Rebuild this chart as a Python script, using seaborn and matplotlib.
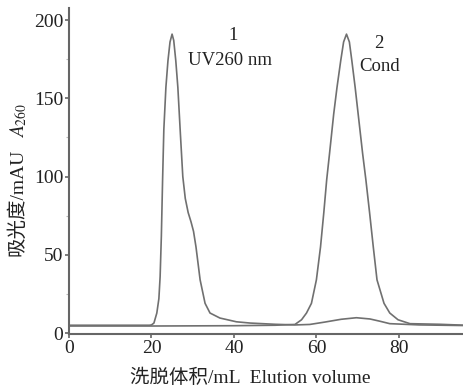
import numpy as np
import pandas as pd
import matplotlib
matplotlib.use('Agg')
import matplotlib.pyplot as plt
from matplotlib.ticker import MultipleLocator
import seaborn as sns

# UV 260 nm trace (peak 1)
uv_x = [0, 10, 19.5, 20.0, 20.6, 21.3, 21.8, 22.1, 22.4, 22.7, 23.0, 23.5, 24.0, 24.5,
        25.0, 25.4, 25.9, 26.4, 27.0, 27.6, 28.2, 28.9, 29.6, 30.2, 30.8, 31.8, 33.0,
        34.2, 36.6, 40.6, 43.9, 50, 55, 58.4, 62, 66, 69.7, 73, 75.5, 77.8, 85, 96]
uv_y = [5.0, 5.0, 5.0, 5.2, 6.4, 12.8, 22, 36, 62, 98, 130, 157, 174, 186,
        191, 187, 174, 157, 128, 100, 86, 77, 71, 65, 55, 34, 19,
        12.8, 9.6, 7.2, 6.4, 5.6, 5.2, 5.5, 7.0, 8.8, 9.8, 9.0, 7.5, 6.0, 5.2, 4.8]

# conductivity trace (peak 2)
cond_x = [0, 20, 40, 50, 54.8, 56.4, 57.6, 58.8, 60.0, 61.0, 61.8, 62.5, 63.2, 64.2,
          65.0, 65.9, 66.6, 67.3, 68.0, 68.6, 69.4, 70.3, 71.2, 72.0, 72.9, 73.8,
          74.7, 76.4, 77.8, 79.8, 82.7, 90, 96]
cond_y = [4.5, 4.5, 4.7, 5.0, 5.5, 8.5, 12.8, 19, 34, 55, 77, 98, 115, 140,
          157, 174, 186, 191, 186, 174, 157, 136, 115, 98, 77, 55,
          34, 19, 12.8, 8.5, 6.0, 5.6, 5.0]

x_ticks = [0, 20, 40, 60, 80]
y_ticks = [0, 50, 100, 150, 200]

sns.set_style('ticks')
plt.rcParams['font.family'] = ['Liberation Serif', 'Noto Sans CJK SC']
plt.rcParams['mathtext.fontset'] = 'stix'

W, H = 464, 389
fig = plt.figure(figsize=(W / 100, H / 100), dpi=100)
ax = fig.add_axes([69 / W, 1 - 334 / H, 1 - 69 / W, (334 - 8) / H])

line_color = '#707070'
df_uv = pd.DataFrame({'x': uv_x, 'y': uv_y})
df_cond = pd.DataFrame({'x': cond_x, 'y': cond_y})
sns.lineplot(data=df_uv, x='x', y='y', sort=False, estimator=None, color=line_color, lw=1.2, ax=ax)
sns.lineplot(data=df_cond, x='x', y='y', sort=False, estimator=None, color=line_color, lw=1.2, ax=ax)

ax.set_xlim(0, 95.8)
ax.set_ylim(-0.6, 207.7)
ax.set_xticks(x_ticks)
ax.set_yticks(y_ticks)
ax.yaxis.set_minor_locator(MultipleLocator(25))
ax.set_xlabel('')
ax.set_ylabel('')

for side in ['top', 'right']:
    ax.spines[side].set_visible(False)
for side in ['left', 'bottom']:
    ax.spines[side].set_color('#666666')
    ax.spines[side].set_linewidth(1.5)
ax.tick_params(axis='both', which='major', labelsize=14, length=3, width=1.2,
               color='#666666', labelcolor='#222222', pad=1)
ax.tick_params(axis='y', which='minor', length=2, width=0.8, color='#bbbbbb')

ax.text(39.8, 190, '1', fontsize=13.5, ha='center', va='center', color='#222222')
ax.text(39.1, 174.4, 'UV260 nm', fontsize=13.5, ha='center', va='center', color='#222222')
ax.text(75.2, 185, '2', fontsize=13.5, ha='center', va='center', color='#222222')
ax.text(75.3, 170.6, 'Cond', fontsize=13.5, ha='center', va='center', color='#222222')

fig.text(250.5 / W, 1 - 378 / H, '洗脱体积/mL  Elution volume', fontsize=14,
         ha='center', va='center', color='#222222')
fig.text(17 / W, 1 - 202 / H, '吸光度/mAU', fontsize=14, rotation=90,
         ha='center', va='center', color='#222222')
fig.text(19 / W, 1 - 120 / H, '$A_{260}$', fontsize=14, rotation=90,
         ha='center', va='center', color='#222222')

fig.savefig('out.png', dpi=100)
